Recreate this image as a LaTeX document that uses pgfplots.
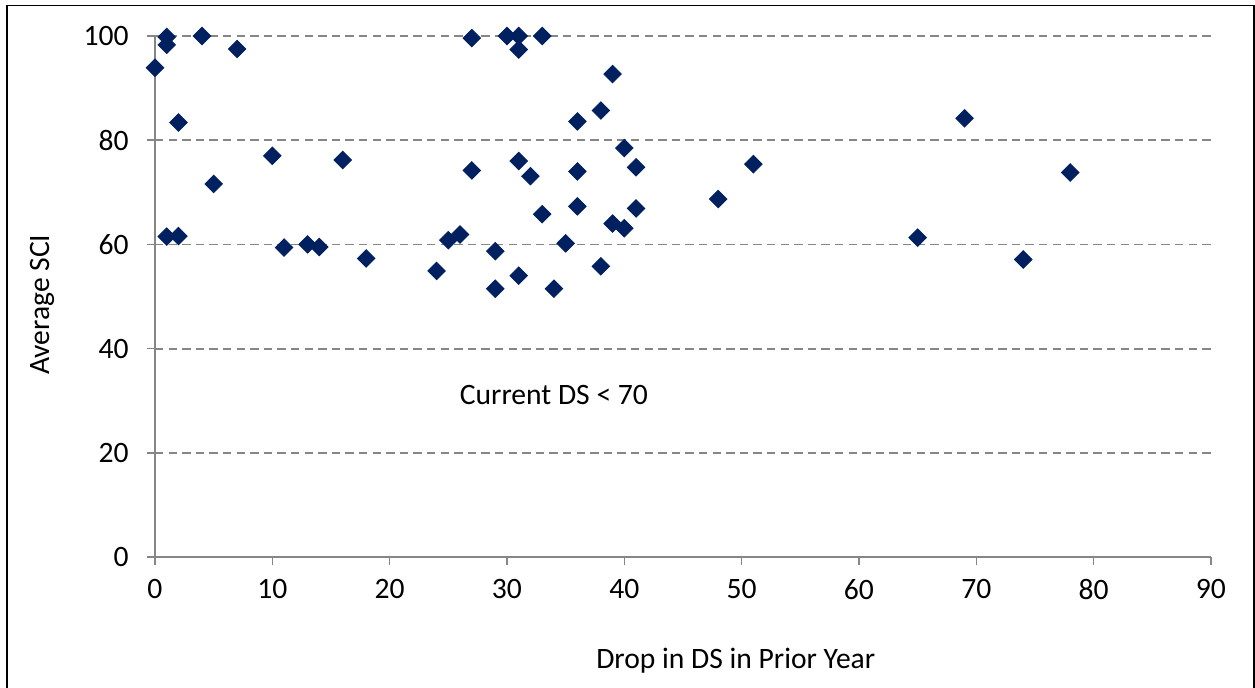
\documentclass[border=0pt]{standalone}
\usepackage{pgfplots}
\pgfplotsset{compat=1.18}
\usepackage{fontspec}
\setmainfont{Carlito}
\definecolor{navy}{HTML}{002060}
\definecolor{axgray}{HTML}{868686}
\begin{document}
\fontsize{14.8}{17.8}\selectfont
\begin{tikzpicture}[x=1pt,y=1pt]
\path[use as bounding box] (0,0) rectangle (627.5,343.5);
\draw[black, line width=0.9pt] (3.5,-2) -- (3.5,340.75) -- (627,340.75) -- (627,-2);
\begin{axis}[
  at={(77.5pt,65pt)}, anchor=south west,
  scale only axis, width=528pt, height=260.5pt,
  xmin=0, xmax=90, ymin=0, ymax=100,
  xtick={0,10,...,90}, ytick={0,20,...,100},
  axis lines*=left,
  axis line style={axgray, line width=1pt},
  tick style={axgray, line width=0.8pt},
  tick align=outside,
  major tick length=4pt,
  ymajorgrids,
  grid style={axgray, line width=0.9pt, dash pattern=on 4.2pt off 2.6pt},
  clip=false,
  /pgf/number format/assume math mode=true,
  ticklabel style={font=\fontsize{14.8}{17.8}\selectfont},
  label style={font=\fontsize{14.8}{17.8}\selectfont},
  xlabel={Drop in DS in Prior Year},
  ylabel={Average SCI},
  xlabel style={at={(axis description cs:0.55,-0.1996)}, anchor=center},
  ylabel style={at={(axis description cs:-0.107,0.484)}, anchor=center},
  yticklabel style={xshift=-4pt},
  xticklabel style={yshift=-2pt},
]
\addplot[only marks, mark=square*, mark size=3.1pt, mark options={rotate=45, fill=navy, draw=navy}] coordinates {
(0,93.9) (1,99.8) (1,98.3) (1,61.5) (2,83.4) (2,61.6) (4,100) (5,71.6)
(7,97.5) (10,77.0) (11,59.4) (13,60.0) (14,59.5) (16,76.2) (18,57.3)
(24,54.9) (25,60.8) (26,61.9) (27,99.6) (27,74.2) (29,58.7) (29,51.5)
(30,100) (31,100) (31,97.4) (31,76.0) (31,54.0) (32,73.1) (33,100)
(33,65.8) (34,51.5) (35,60.2) (36,83.6) (36,74.0) (36,67.3) (38,85.7)
(38,55.8) (39,92.7) (39,64.0) (40,78.5) (40,63.1) (41,74.8) (41,66.9)
(48,68.7) (51,75.4) (65,61.3) (69,84.2) (74,57.1) (78,73.8)
};
\node[anchor=center, font=\fontsize{14.8}{17.8}\selectfont] at (axis cs:34,31) {Current DS < 70};
\end{axis}
\end{tikzpicture}
\end{document}
